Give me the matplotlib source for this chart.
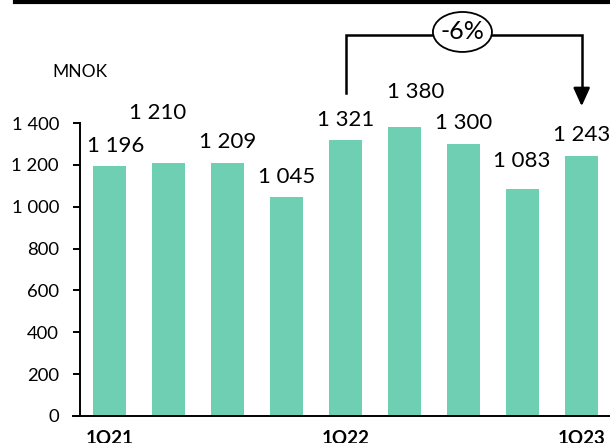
import matplotlib
matplotlib.use("Agg")
import matplotlib.pyplot as plt
from matplotlib.patches import Ellipse

plt.rcParams['font.family'] = ['Lato', 'DejaVu Sans']

categories = ['1Q21', '2Q21', '3Q21', '4Q21', '1Q22', '2Q22', '3Q22', '4Q22', '1Q23']
values = [1196, 1210, 1209, 1045, 1321, 1380, 1300, 1083, 1243]
value_labels = ['1 196', '1 210', '1 209', '1 045', '1 321', '1 380', '1 300', '1 083', '1 243']
shown_ticks = {'1Q21', '1Q22', '1Q23'}
yticks = [0, 200, 400, 600, 800, 1000, 1200, 1400]
ytick_labels = ['0', '200', '400', '600', '800', '1 000', '1 200', '1 400']
change_label = '-6%'

# layout: label offsets (px) relative to bar top centre
label_dx = [6, -11, 0, 0, 0, 11, 0, -1, 0]
label_dy = [20, 50, 21, 20, 20, 35, 21, 28, 21]

W, H = 610, 443
fig = plt.figure(figsize=(W / 100, H / 100), dpi=100)
ax = fig.add_axes([80 / W, 1 - 416 / H, 1 - 80 / W, (416 - 123) / H])

color = '#6ECFB3'
x = list(range(len(categories)))
ax.bar(x, values, width=0.56, color=color, zorder=2)
ax.set_xlim(-0.5, 8.48)
ax.set_ylim(0, 1400)

ax.set_yticks(yticks)
ax.set_yticklabels(ytick_labels, fontsize=13.3)
ax.tick_params(axis='y', direction='out', length=5.2, width=1.4, pad=10, color='black')
ax.set_xticks(x)
ax.set_xticklabels([c if c in shown_ticks else '' for c in categories], fontsize=13.5, fontweight='bold')
ax.tick_params(axis='x', length=0, pad=10)

for s in ['top', 'right']:
    ax.spines[s].set_visible(False)
ax.spines['left'].set_linewidth(1.4)
ax.spines['bottom'].set_linewidth(1.4)
ax.spines['bottom'].set_bounds(-0.62, 8.48)

for i, (v, lab) in enumerate(zip(values, value_labels)):
    ax.annotate(lab, xy=(i, v), xytext=(label_dx[i] * 0.72, label_dy[i] * 0.72),
                textcoords='offset points', ha='center', va='center', fontsize=16,
                annotation_clip=False)

# MNOK unit
fig.text(52 / W, 1 - 72 / H, 'MNOK', fontsize=12.5, ha='left', va='center')

# top black rule
fig.add_artist(plt.Line2D([15 / W, 1], [1 - 2 / H, 1 - 2 / H], color='black', linewidth=3.0))

# change bracket from 1Q22 to 1Q23
i0, i1 = 4, 8
y_low = 1543
y_top = 1820
y_tip = 1467
ax.plot([i0, i0, i1, i1], [y_low, y_top, y_top, y_tip + 60], color='black', lw=1.8,
        clip_on=False, zorder=3, solid_joinstyle='miter')
ax.annotate('', xy=(i1, y_tip), xytext=(i1, y_tip + 80),
            arrowprops=dict(arrowstyle='-|>,head_length=1.1,head_width=0.5', color='black', lw=1.8),
            annotation_clip=False)
ell = Ellipse((5.98, 1835), width=1.0, height=191, facecolor='white', edgecolor='black',
              lw=1.3, clip_on=False, zorder=4)
ax.add_patch(ell)
ax.text(5.98, 1835, change_label, ha='center', va='center', fontsize=18, zorder=5, clip_on=False)

fig.savefig('out.png', dpi=100)
